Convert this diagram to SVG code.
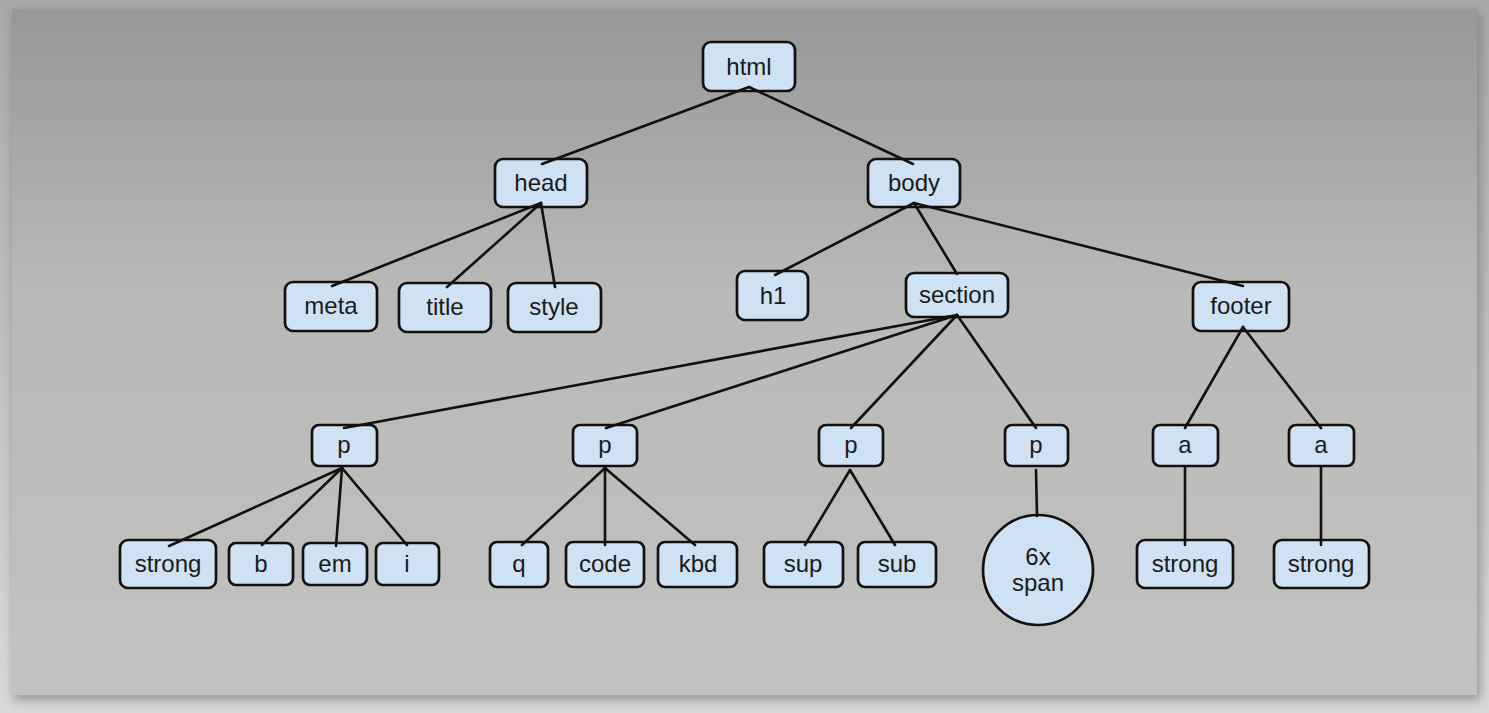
<svg xmlns="http://www.w3.org/2000/svg" width="1489" height="713" viewBox="0 0 1489 713">
<defs>
<linearGradient id="outer" x1="0" y1="0" x2="0" y2="1">
<stop offset="0" stop-color="#a9a9a9"/>
<stop offset="1" stop-color="#dadada"/>
</linearGradient>
<linearGradient id="panel" x1="0" y1="0" x2="0" y2="1">
<stop offset="0" stop-color="#979797"/>
<stop offset="0.4" stop-color="#b8b8b7"/>
<stop offset="1" stop-color="#c2c2c0"/>
</linearGradient>
<filter id="sh" x="-5%" y="-5%" width="110%" height="110%">
<feGaussianBlur stdDeviation="6"/>
</filter>
</defs>
<style>
.n rect,.n circle{fill:#cfe2f3;stroke:#111;stroke-width:2.7}
.n text{font-family:"Liberation Sans",Arial,sans-serif;font-size:24px;fill:#1a1a1a;text-anchor:middle}
#connectors line{stroke:#111;stroke-width:2.6;stroke-linecap:round}
</style>
<rect x="0" y="0" width="1489" height="713" fill="url(#outer)"/>
<rect x="14" y="12" width="1466" height="688" fill="#666" opacity="0.6" filter="url(#sh)"/>
<rect x="12" y="9" width="1465" height="686" fill="url(#panel)"/>

<g id="html" class="n"><rect x="703" y="42" width="92" height="49" rx="8"/><text x="749" y="75">html</text></g>
<g id="head" class="n"><rect x="495" y="159" width="92" height="48" rx="8"/><text x="541" y="191">head</text></g>
<g id="body" class="n"><rect x="868" y="159" width="92" height="48" rx="8"/><text x="914" y="191">body</text></g>
<g id="meta" class="n"><rect x="285" y="282" width="92" height="49" rx="8"/><text x="331" y="314">meta</text></g>
<g id="title" class="n"><rect x="399" y="283" width="92" height="49" rx="8"/><text x="445" y="315">title</text></g>
<g id="style" class="n"><rect x="508" y="283" width="93" height="49" rx="8"/><text x="554" y="315">style</text></g>
<g id="h1" class="n"><rect x="737" y="271" width="71" height="49" rx="8"/><text x="773" y="304">h1</text></g>
<g id="section" class="n"><rect x="906" y="273" width="102" height="44" rx="8"/><text x="957" y="303">section</text></g>
<g id="footer" class="n"><rect x="1193" y="282" width="96" height="49" rx="8"/><text x="1241" y="314">footer</text></g>
<g id="p1" class="n"><rect x="312" y="425" width="65" height="41" rx="7"/><text x="344" y="453">p</text></g>
<g id="p2" class="n"><rect x="573" y="425" width="64" height="41" rx="7"/><text x="605" y="453">p</text></g>
<g id="p3" class="n"><rect x="819" y="425" width="64" height="41" rx="7"/><text x="851" y="453">p</text></g>
<g id="p4" class="n"><rect x="1005" y="425" width="63" height="41" rx="7"/><text x="1036" y="453">p</text></g>
<g id="a1" class="n"><rect x="1153" y="425" width="65" height="41" rx="7"/><text x="1185" y="453">a</text></g>
<g id="a2" class="n"><rect x="1289" y="425" width="65" height="41" rx="7"/><text x="1321" y="453">a</text></g>
<g id="strong1" class="n"><rect x="120" y="540" width="96" height="48" rx="8"/><text x="168" y="572">strong</text></g>
<g id="b" class="n"><rect x="229" y="543" width="64" height="42" rx="7"/><text x="261" y="572">b</text></g>
<g id="em" class="n"><rect x="303" y="543" width="64" height="42" rx="7"/><text x="335" y="572">em</text></g>
<g id="i" class="n"><rect x="376" y="543" width="63" height="42" rx="7"/><text x="407" y="572">i</text></g>
<g id="q" class="n"><rect x="490" y="542" width="58" height="45" rx="7"/><text x="519" y="572">q</text></g>
<g id="code" class="n"><rect x="566" y="542" width="78" height="45" rx="7"/><text x="605" y="572">code</text></g>
<g id="kbd" class="n"><rect x="658" y="542" width="79" height="45" rx="7"/><text x="698" y="572">kbd</text></g>
<g id="sup" class="n"><rect x="764" y="542" width="79" height="45" rx="7"/><text x="803" y="572">sup</text></g>
<g id="sub" class="n"><rect x="858" y="542" width="78" height="45" rx="7"/><text x="897" y="572">sub</text></g>
<g id="span" class="n"><circle cx="1038" cy="570" r="55"/><text x="1038" y="565">6x</text><text x="1038" y="591">span</text></g>
<g id="strong2" class="n"><rect x="1137" y="540" width="96" height="48" rx="8"/><text x="1185" y="572">strong</text></g>
<g id="strong3" class="n"><rect x="1274" y="540" width="95" height="48" rx="8"/><text x="1321" y="572">strong</text></g>

<g id="connectors">
<line x1="749" y1="87" x2="542" y2="164"/>
<line x1="749" y1="87" x2="913" y2="164"/>
<line x1="541" y1="203" x2="332" y2="286"/>
<line x1="541" y1="203" x2="447" y2="287"/>
<line x1="541" y1="203" x2="555" y2="287"/>
<line x1="914" y1="203" x2="775" y2="275"/>
<line x1="914" y1="203" x2="957" y2="274"/>
<line x1="914" y1="203" x2="1243" y2="286"/>
<line x1="957" y1="315" x2="344" y2="428"/>
<line x1="957" y1="315" x2="606" y2="428"/>
<line x1="957" y1="315" x2="851" y2="428"/>
<line x1="957" y1="315" x2="1036" y2="428"/>
<line x1="1243" y1="327" x2="1185" y2="428"/>
<line x1="1243" y1="327" x2="1321" y2="428"/>
<line x1="342" y1="468" x2="169" y2="546"/>
<line x1="342" y1="468" x2="262" y2="545"/>
<line x1="342" y1="468" x2="336" y2="546"/>
<line x1="342" y1="468" x2="407" y2="545"/>
<line x1="605" y1="468" x2="522" y2="545"/>
<line x1="605" y1="468" x2="605" y2="545"/>
<line x1="605" y1="468" x2="695" y2="545"/>
<line x1="850" y1="470" x2="805" y2="545"/>
<line x1="850" y1="470" x2="895" y2="545"/>
<line x1="1036" y1="470" x2="1037" y2="516"/>
<line x1="1185" y1="468" x2="1185" y2="545"/>
<line x1="1321" y1="468" x2="1321" y2="545"/>
</g>
</svg>
